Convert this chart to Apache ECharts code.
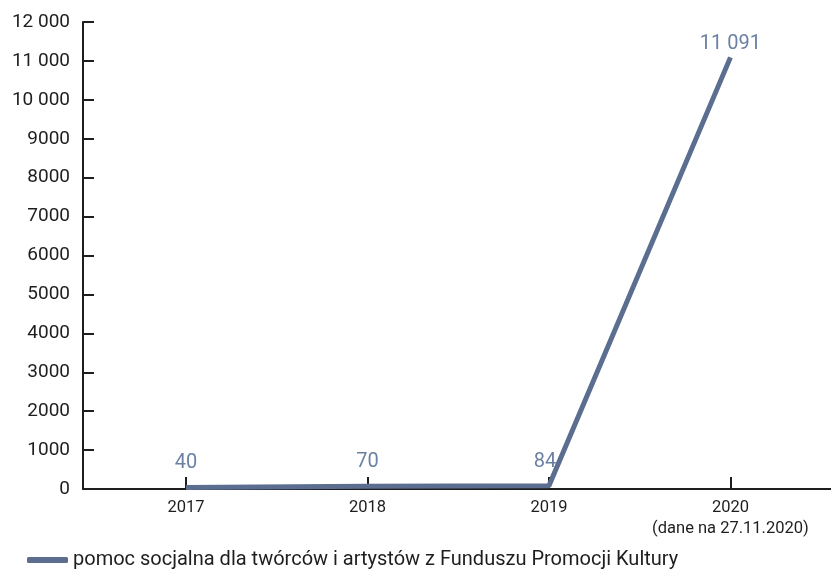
<!DOCTYPE html>
<html>
<head>
<meta charset="utf-8">
<script src="https://cdn.jsdelivr.net/npm/echarts@6/dist/echarts.min.js"></script>
<style>
  html, body { margin: 0; padding: 0; background: #fff; }
  #chart { width: 831px; height: 570px; }
</style>
</head>
<body>
<div id="chart"></div>
<script>
// Years on the horizontal axis and the matching amounts
const years = [2017, 2018, 2019, 2020];
const yearLabels = ['2017', '2018', '2019', '2020\n(dane na 27.11.2020)'];
const amounts = [40, 70, 84, 11091];
const seriesName = 'pomoc socjalna dla twórców i artystów z Funduszu Promocji Kultury';

// Polish style grouping: only five-digit numbers get a space separator
function fmt(v) {
  const s = String(Math.round(v));
  return s.length > 4 ? s.replace(/\B(?=(\d{3})+(?!\d))/g, ' ') : s;
}

const axisColor = '#1e1e1e';
const lineColor = '#5b6e90';
const labelColor = '#6b80a3';
const font = 'Roboto, "Noto Sans", sans-serif';

// per-point label tweaks so the labels sit clear of the steep segment
const labelTweaks = [
  { distance: 14 },
  { distance: 14 },
  { distance: 14, offset: [-4, 0] },
  { distance: 3 }
];

const chart = echarts.init(document.getElementById('chart'));
chart.setOption({
  animation: false,
  grid: { left: 83, right: 0, top: 22, bottom: 81, containLabel: false },
  xAxis: {
    type: 'value',
    min: 2016.4325,
    max: 2020.554,
    splitLine: { show: false },
    axisLine: { show: true, lineStyle: { color: axisColor, width: 2 } },
    axisTick: {
      show: true, inside: true, length: 12,
      customValues: years,
      lineStyle: { color: axisColor, width: 2 }
    },
    axisLabel: {
      customValues: years,
      color: axisColor,
      fontFamily: font,
      fontSize: 16.5,
      lineHeight: 21,
      margin: 8,
      formatter: function (v) { return yearLabels[years.indexOf(Math.round(v))] || ''; }
    }
  },
  yAxis: {
    type: 'value',
    min: 0,
    max: 12000,
    interval: 1000,
    splitLine: { show: false },
    axisLine: { show: true, lineStyle: { color: axisColor, width: 2 } },
    axisTick: { show: true, inside: true, length: 11, lineStyle: { color: axisColor, width: 2 } },
    axisLabel: {
      color: axisColor,
      fontFamily: font,
      fontSize: 19,
      margin: 13,
      formatter: fmt
    }
  },
  legend: {
    show: true,
    left: 22,
    top: 545,
    icon: 'roundRect',
    itemWidth: 41,
    itemHeight: 6,
    itemGap: 10,
    textStyle: { color: axisColor, fontFamily: font, fontSize: 20 },
    data: [seriesName]
  },
  series: [{
    name: seriesName,
    type: 'line',
    data: years.map(function (y, i) {
      return { value: [y, amounts[i]], label: labelTweaks[i] };
    }),
    symbol: 'circle',
    symbolSize: 0,
    showSymbol: true,
    lineStyle: { color: lineColor, width: 5 },
    itemStyle: { color: lineColor },
    label: {
      show: true,
      position: 'top',
      color: labelColor,
      fontFamily: font,
      fontSize: 20,
      formatter: function (p) { return fmt(p.value[1]); }
    }
  }]
});
</script>
</body>
</html>
